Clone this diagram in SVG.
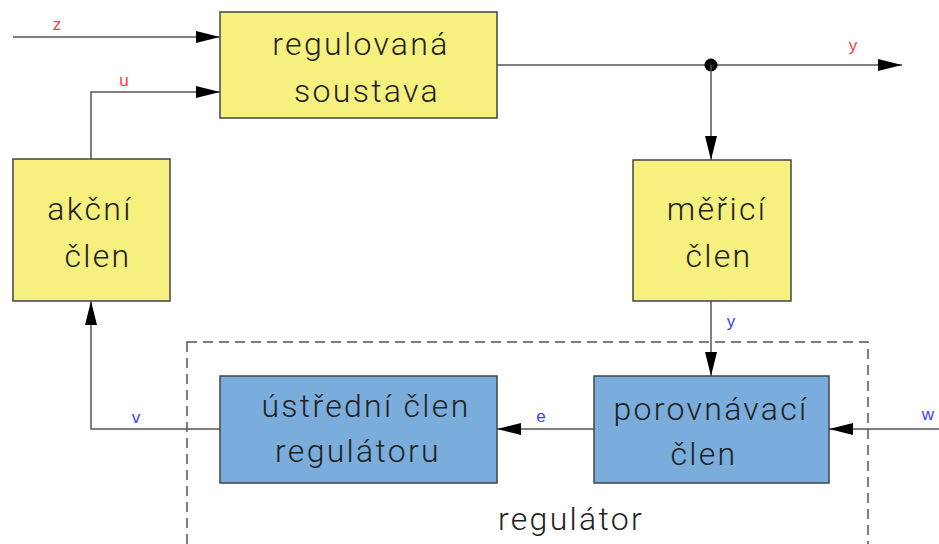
<svg xmlns="http://www.w3.org/2000/svg" width="939" height="544" viewBox="0 0 939 544">
<style>
.box{stroke:#444;stroke-width:1.5}
.yel{fill:#f6f07f}
.blu{fill:#7aaddc}
.t{font-family:Roboto,"Liberation Sans",Arial,sans-serif;font-weight:300;font-size:32px;fill:#222;text-anchor:middle;letter-spacing:2.3px}
.w{fill:none;stroke:#555;stroke-width:1.5}
.lr{font-family:"Liberation Sans",Arial,sans-serif;font-size:17px;fill:#ff3b3b;text-anchor:middle}
.lb{font-family:"Liberation Sans",Arial,sans-serif;font-size:17px;fill:#3b3bff;text-anchor:middle}
</style>
<defs>
<marker id="ah" markerUnits="userSpaceOnUse" markerWidth="26" markerHeight="14" refX="24" refY="7" orient="auto">
<path d="M0,1 L24,7 L0,13 Z" fill="#000"/>
</marker>
</defs>
<rect x="187" y="342" width="681" height="220" fill="none" stroke="#555" stroke-width="1.5" stroke-dasharray="10,6"/>
<text class="t" x="571" y="530">regulátor</text>
<g id="connectors">
<path class="w" d="M13,37 H220" marker-end="url(#ah)"/>
<path class="w" d="M91,160 V92 H220" marker-end="url(#ah)"/>
<path class="w" d="M497,65 H902" marker-end="url(#ah)"/>
<circle cx="711" cy="65" r="6.5" fill="#000"/>
<path class="w" d="M711,65 V160" marker-end="url(#ah)"/>
<path class="w" d="M711,301 V376" marker-end="url(#ah)"/>
<path class="w" d="M939,429 H829" marker-end="url(#ah)"/>
<path class="w" d="M594,429 H497" marker-end="url(#ah)"/>
<path class="w" d="M220,429 H91 V301" marker-end="url(#ah)"/>
<text class="lr" x="57" y="30">z</text>
<text class="lr" x="124" y="86">u</text>
<text class="lr" x="853" y="51">y</text>
<text class="lb" x="731" y="327">y</text>
<text class="lb" x="928" y="420">w</text>
<text class="lb" x="541" y="422">e</text>
<text class="lb" x="136" y="423">v</text>
</g>
<g id="regulovana-soustava">
<rect class="box yel" x="220" y="12" width="277" height="106"/>
<text class="t" x="361" y="55">regulovaná</text>
<text class="t" x="367" y="102">soustava</text>
</g>
<g id="akcni-clen">
<rect class="box yel" x="13" y="159" width="157" height="142"/>
<text class="t" x="90" y="220">akční</text>
<text class="t" x="98" y="267">člen</text>
</g>
<g id="merici-clen">
<rect class="box yel" x="633" y="160" width="158" height="141"/>
<text class="t" x="717" y="220">měřicí</text>
<text class="t" x="719" y="267">člen</text>
</g>
<g id="ustredni-clen">
<rect class="box blu" x="220" y="376" width="277" height="107"/>
<text class="t" x="366" y="417">ústřední člen</text>
<text class="t" x="358" y="462">regulátoru</text>
</g>
<g id="porovnavaci-clen">
<rect class="box blu" x="594" y="376" width="235" height="107"/>
<text class="t" x="711" y="420">porovnávací</text>
<text class="t" x="704" y="465">člen</text>
</g>
</svg>
